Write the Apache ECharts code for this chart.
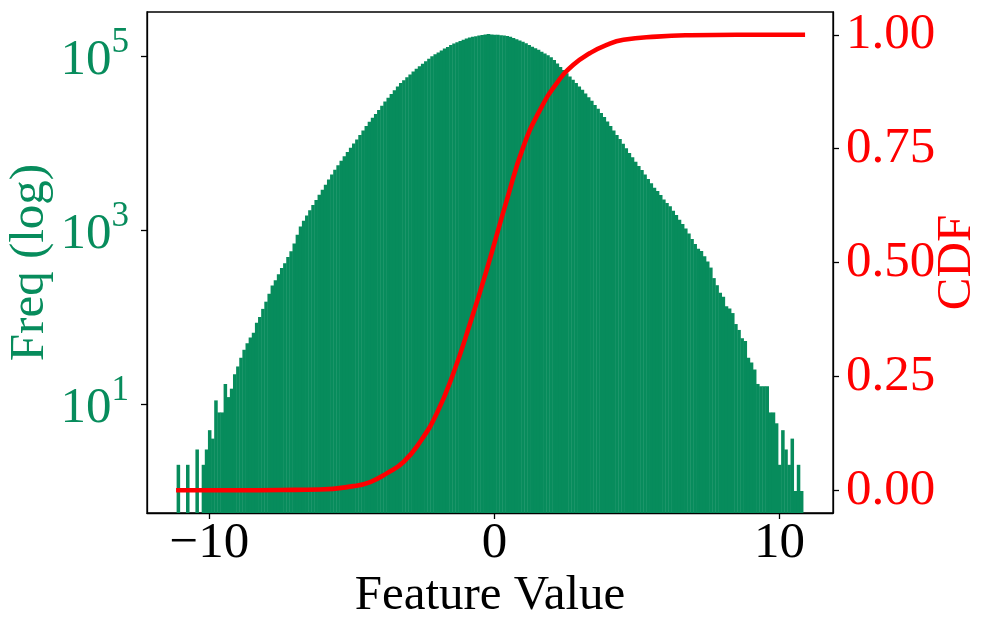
<!DOCTYPE html>
<html><head><meta charset="utf-8">
<script src="https://cdn.jsdelivr.net/npm/echarts@6/dist/echarts.min.js"></script>
<style>html,body{margin:0;padding:0;background:#fff}#c{width:996px;height:634px}</style>
</head><body><div id="c"></div>
<script>
// Histogram bins (200 equal-width bins spanning the data range)
const binLo = -11.151;
const binHi = 10.829;
const counts = [
 2,0,0,2,0,0,3,0,2,3,
 5,4,11,8,8,17,12,15,22,27,
 34,42,50,58,66,86,100,124,150,185,
 230,265,310,365,415,490,570,700,880,1100,
 1280,1470,1690,1940,2220,2550,2900,3320,3800,4340,
 4930,5550,6250,7050,7900,8800,9900,11000,12400,13900,
 15700,17500,19500,21600,24000,26900,30000,33100,36600,40500,
 44700,49000,52800,57000,61300,66200,71300,76100,81300,87000,
 93000,99400,105000,110000,116000,122000,127000,134000,139000,144000,
 149000,154000,159000,163000,166000,169000,172000,174000,177000,179000,
 177000,176000,175000,173000,172000,170000,166000,161000,156000,151000,
 146000,140000,134000,128000,123000,118000,112000,107000,102000,97000,
 90000,82000,75000,69000,63500,58000,53500,48800,44700,40900,
 37000,33600,30600,27300,24700,22200,19900,17700,15700,13900,
 12400,11100,9800,8700,7700,6850,6100,5450,4900,4350,
 3870,3450,3060,2800,2530,2240,2050,1880,1660,1490,
 1310,1170,1040,910,790,690,610,575,500,435,
 370,280,232,190,171,133,125,111,83,71,
 57,53,34,30,25,17,16,16,16,8,
 8,6,2,5,3,2,4,1,2,1
];
// CDF curve
const cdfX = [-11.17,-9.0,-7.5,-6.12,-4.95,-4.36,-3.78,-3.19,-2.61,-2.02,-1.44,-0.85,-0.27,0.44,1.02,1.60,2.19,2.77,3.36,3.94,4.53,5.70,6.87,8.5,10.90];
const cdfY = [0.0,0.0,0.0005,0.0015,0.009,0.018,0.037,0.062,0.106,0.169,0.257,0.367,0.484,0.638,0.755,0.835,0.894,0.934,0.960,0.978,0.989,0.996,0.999,1.0,1.0];
// Tick labels
const xTicks = [-10, 0, 10];
const freqTicks = [10, 1000, 100000];
const cdfTicks = [0, 0.25, 0.5, 0.75, 1.0];

const GREEN = '#078c5c';
const RED = '#ff0000';
const FONT = '"Liberation Serif", "Times New Roman", serif';
const X_MIN = -12.19, X_MAX = 11.88;
const Y_MIN = 0.5585, Y_MAX = 320600;

const w = (binHi - binLo) / counts.length;
const histData = counts.map((c, i) => [binLo + i * w, binLo + (i + 1) * w, c]);
const cdfData = cdfX.map((x, i) => [x, cdfY[i]]);

const chart = echarts.init(document.getElementById('c'), null, {renderer: 'canvas'});
chart.setOption({
  animation: false,
  backgroundColor: '#fff',
  grid: {left: 147, right: 163, top: 12, bottom: 121, show: true, borderColor: '#000', borderWidth: 1.3, containLabel: false, outerBoundsMode: 'none'},
  xAxis: {
    type: 'value', min: X_MIN, max: X_MAX,
    axisLine: {show: true, onZero: false, lineStyle: {color: '#000', width: 1.3}},
    axisTick: {show: true, customValues: xTicks, length: 6, lineStyle: {color: '#000', width: 1.3}},
    axisLabel: {customValues: xTicks, margin: 5, fontFamily: FONT, fontSize: 51, color: '#000',
      formatter: v => (v < 0 ? '\u2212' + Math.abs(v) : String(v))},
    splitLine: {show: false},
    name: 'Feature Value', nameLocation: 'middle', nameGap: 59, nameMoveOverlap: false,
    nameTextStyle: {fontFamily: FONT, fontSize: 49, color: '#000'}
  },
  yAxis: [{
    type: 'log', logBase: 10, min: Y_MIN, max: Y_MAX, position: 'left',
    axisLine: {show: true, onZero: false, lineStyle: {color: '#000', width: 1.3}},
    axisTick: {show: true, customValues: freqTicks, length: 6, lineStyle: {color: '#000', width: 1.3}},
    axisLabel: {customValues: freqTicks, margin: 18,
      formatter: v => '{b|10}{s|' + Math.round(Math.log10(v)) + '}',
      rich: {
        b: {fontFamily: FONT, fontSize: 51, color: GREEN, verticalAlign: 'bottom'},
        s: {fontFamily: FONT, fontSize: 35, color: GREEN, verticalAlign: 'top', padding: [0, 0, 26, 0]}
      }},
    splitLine: {show: false},
    name: 'Freq (log)', nameLocation: 'middle', nameGap: 92, nameMoveOverlap: false,
    nameTextStyle: {fontFamily: FONT, fontSize: 49, color: GREEN}
  }, {
    type: 'value', min: -0.05, max: 1.05, position: 'right',
    axisLine: {show: true, onZero: false, lineStyle: {color: '#000', width: 1.3}},
    axisTick: {show: true, customValues: cdfTicks, length: 6, lineStyle: {color: '#000', width: 1.3}},
    axisLabel: {customValues: cdfTicks, margin: 13, fontFamily: FONT, fontSize: 51, color: RED,
      formatter: v => v.toFixed(2)},
    splitLine: {show: false},
    name: 'CDF', nameLocation: 'middle', nameGap: 100, nameRotate: 90, nameMoveOverlap: false,
    nameTextStyle: {fontFamily: FONT, fontSize: 49, color: RED}
  }],
  series: [{
    type: 'custom', name: 'Freq', xAxisIndex: 0, yAxisIndex: 0, clip: true,
    encode: {x: [0, 1], y: 2},
    data: histData,
    renderItem: (params, api) => {
      const c = api.value(2);
      if (!(c > 0)) return null;
      const p0 = api.coord([api.value(0), c]);
      const p1 = api.coord([api.value(1), Y_MIN]);
      return {type: 'rect', shape: {x: p0[0], y: p0[1], width: p1[0] - p0[0] + 0.4, height: p1[1] - p0[1]},
        style: {fill: GREEN}};
    }
  }, {
    type: 'line', name: 'CDF', xAxisIndex: 0, yAxisIndex: 1, data: cdfData,
    showSymbol: false, smooth: 0.5, z: 5,
    lineStyle: {color: RED, width: 4.6}
  }]
});
</script></body></html>
